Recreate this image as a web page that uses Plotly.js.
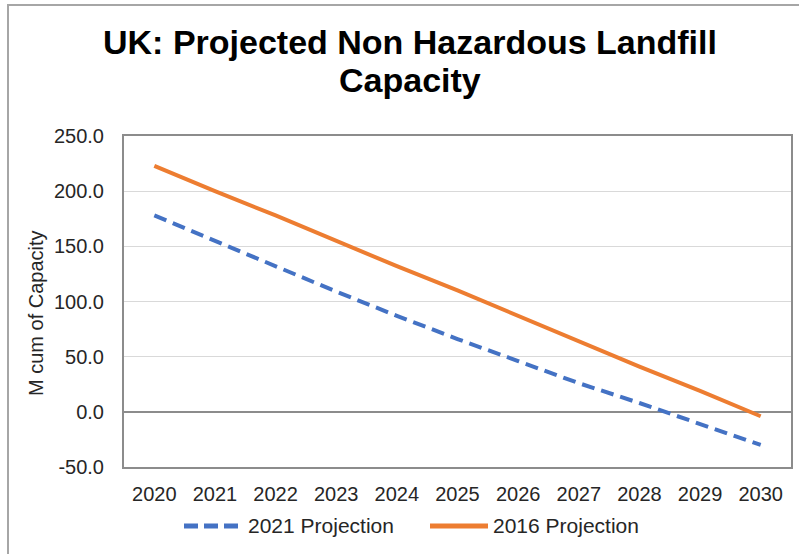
<!DOCTYPE html>
<html>
<head>
<meta charset="utf-8">
<script src="https://cdn.plot.ly/plotly-3.0.1.min.js"></script>
<style>html,body{margin:0;padding:0;background:#fff;}#chart{width:799px;height:554px;}</style>
</head>
<body>
<div id="chart"></div>
<script>
const years = ['2020','2021','2022','2023','2024','2025','2026','2027','2028','2029','2030'];
const proj2021 = [178, 155, 132, 109, 87, 66, 46, 26, 8, -11, -30];
const proj2016 = [223, 200, 178, 155, 132, 110, 87, 64, 41, 19, -4];
const yTicks = [-50, 0, 50, 100, 150, 200, 250];
const titleLines = ['UK: Projected Non Hazardous Landfill', 'Capacity'];
const seriesNames = ['2021 Projection', '2016 Projection'];
const seriesColors = ['#4472C4', '#ED7D31'];

const L = 124, R = 791, T = 136, B = 467;
const W = 799, H = 554;
const pw = R - L, ph = B - T;
const px = v => (v - L) / pw;
const py = v => (B - v) / ph;
const FONT = 'Liberation Sans, Arial, sans-serif';

const traces = [
  {x: years, y: proj2021, type: 'scatter', mode: 'lines', name: seriesNames[0], showlegend: false,
   line: {color: seriesColors[0], width: 4, dash: '13px,7px'}},
  {x: years, y: proj2016, type: 'scatter', mode: 'lines', name: seriesNames[1], showlegend: false,
   line: {color: seriesColors[1], width: 4}}
];

const annotations = [
  {text: '<b>' + titleLines[0] + '</b>', xref: 'paper', yref: 'paper', x: px(410), y: py(42),
   showarrow: false, xanchor: 'center', yanchor: 'middle', font: {size: 34, color: '#000', family: FONT}},
  {text: '<b>' + titleLines[1] + '</b>', xref: 'paper', yref: 'paper', x: px(410), y: py(80),
   showarrow: false, xanchor: 'center', yanchor: 'middle', font: {size: 34, color: '#000', family: FONT}},
  {text: 'M cum of Capacity', xref: 'paper', yref: 'paper', x: px(36), y: py(313),
   textangle: -90, showarrow: false, font: {size: 20, color: '#262626', family: FONT}, xanchor: 'center', yanchor: 'middle'},
  {text: seriesNames[0], xref: 'paper', yref: 'paper', x: px(246), y: py(525),
   showarrow: false, xanchor: 'left', yanchor: 'middle', font: {size: 21, color: '#262626', family: FONT}},
  {text: seriesNames[1], xref: 'paper', yref: 'paper', x: px(491), y: py(525),
   showarrow: false, xanchor: 'left', yanchor: 'middle', font: {size: 21, color: '#262626', family: FONT}}
];

const shapes = [
  {type: 'rect', xref: 'paper', yref: 'paper', x0: px(8), x1: px(830), y0: py(600), y1: py(5),
   line: {color: '#a6a6a6', width: 2}, fillcolor: 'rgba(0,0,0,0)', layer: 'below'},
  {type: 'line', xref: 'paper', yref: 'paper', x0: px(184), x1: px(238), y0: py(526), y1: py(526),
   line: {color: seriesColors[0], width: 5, dash: '14px,6px'}},
  {type: 'line', xref: 'paper', yref: 'paper', x0: px(430), x1: px(488), y0: py(526), y1: py(526),
   line: {color: seriesColors[1], width: 5}}
];

const layout = {
  width: W, height: H,
  margin: {l: L, r: W - R, t: T, b: H - B},
  paper_bgcolor: '#fff', plot_bgcolor: '#fff',
  font: {family: FONT, color: '#262626', size: 20},
  xaxis: {type: 'category', tickvals: years, ticktext: years, showgrid: false, zeroline: false,
          showline: true, mirror: true, linecolor: '#8c8c8c', linewidth: 2,
          ticks: '', ticklabelstandoff: 8, tickfont: {size: 20, color: '#262626'}, range: [-0.5, 10.5]},
  yaxis: {range: [-50, 250], tickvals: yTicks, ticktext: yTicks.map(v => v.toFixed(1)),
          showgrid: true, gridcolor: '#d9d9d9', gridwidth: 1,
          zeroline: true, zerolinecolor: '#8c8c8c', zerolinewidth: 2,
          showline: true, mirror: true, linecolor: '#8c8c8c', linewidth: 2,
          ticks: '', ticklabelstandoff: 14, tickfont: {size: 20, color: '#262626'}},
  showlegend: false,
  annotations: annotations,
  shapes: shapes
};

Plotly.newPlot('chart', traces, layout, {displayModeBar: false, staticPlot: true});
</script>
</body>
</html>
